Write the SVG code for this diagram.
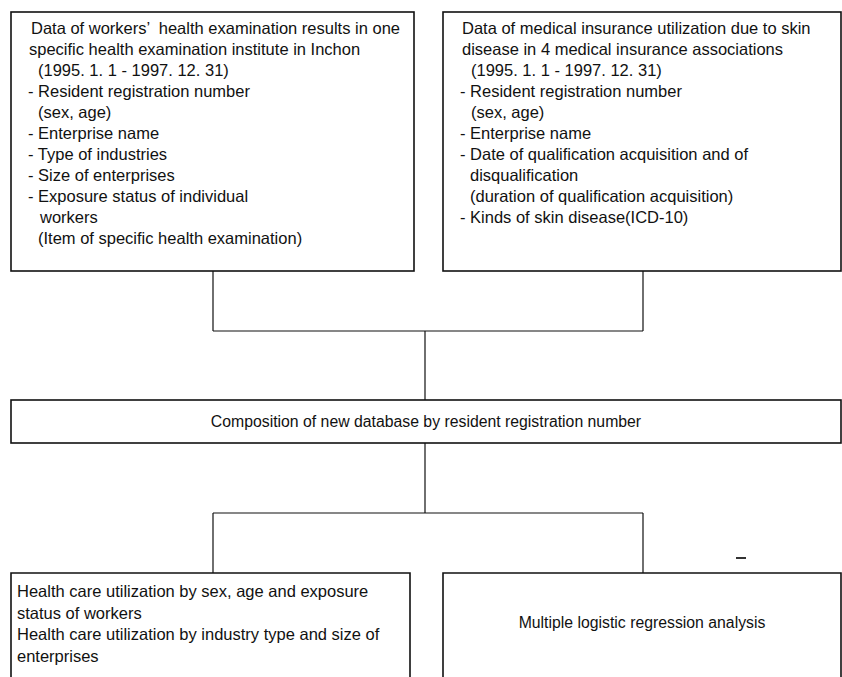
<svg xmlns="http://www.w3.org/2000/svg" width="842" height="677" viewBox="0 0 842 677">
<style>
  .box { fill: #fff; stroke: #111; stroke-width: 1.6; }
  .con { fill: none; stroke: #111; stroke-width: 1.2; }
  text { font-family: "Liberation Sans", Arial, sans-serif; font-size: 16.5px; fill: #111; }
  .c { text-anchor: middle; }
  .s { font-size: 15.8px; }
</style>
<rect width="842" height="677" fill="#fff"/>
<g id="connectors">
  <path class="con" d="M213 271 V331 M643 271 V331 M213 331 H643 M425 331 V400"/>
  <path class="con" d="M425 443 V513 M213 513 H643 M213 513 V573 M643 513 V573"/>
</g>
<g id="node-workers">
  <rect class="box" x="11" y="12" width="403" height="259"/>
  <text x="31" y="34" xml:space="preserve">Data of workers’  health examination results in one</text>
  <text x="29" y="55">specific health examination institute in Inchon</text>
  <text x="38" y="76">(1995. 1. 1 - 1997. 12. 31)</text>
  <text x="28" y="97">- Resident registration number</text>
  <text x="38" y="118">(sex, age)</text>
  <text x="28" y="139">- Enterprise name</text>
  <text x="28" y="160">- Type of industries</text>
  <text x="28" y="181">- Size of enterprises</text>
  <text x="28" y="202">- Exposure status of individual</text>
  <text x="40" y="223">workers</text>
  <text x="38" y="244">(Item of specific health examination)</text>
</g>
<g id="node-insurance">
  <rect class="box" x="443" y="12" width="398" height="259"/>
  <text x="462" y="34">Data of medical insurance utilization due to skin</text>
  <text x="462" y="55">disease in 4 medical insurance associations</text>
  <text x="471" y="76">(1995. 1. 1 - 1997. 12. 31)</text>
  <text x="460" y="97">- Resident registration number</text>
  <text x="471" y="118">(sex, age)</text>
  <text x="460" y="139">- Enterprise name</text>
  <text x="460" y="160">- Date of qualification acquisition and of</text>
  <text x="470" y="181">disqualification</text>
  <text x="470" y="202">(duration of qualification acquisition)</text>
  <text x="460" y="223">- Kinds of skin disease(ICD-10)</text>
</g>
<g id="node-composition">
  <rect class="box" x="11" y="400" width="830" height="43"/>
  <text class="c s" x="426" y="427">Composition of new database by resident registration number</text>
</g>
<g id="node-utilization">
  <path class="box" d="M11 680 V573 H410 V680"/>
  <text x="17" y="597">Health care utilization by sex, age and exposure</text>
  <text x="17" y="618.5">status of workers</text>
  <text x="17" y="640">Health care utilization by industry type and size of</text>
  <text x="17" y="661.5">enterprises</text>
</g>
<g id="node-regression">
  <path class="box" d="M443 680 V573 H841 V680"/>
  <text class="c s" x="642" y="628">Multiple logistic regression analysis</text>
</g>
<rect x="736" y="557" width="10" height="2" fill="#333"/>
</svg>
